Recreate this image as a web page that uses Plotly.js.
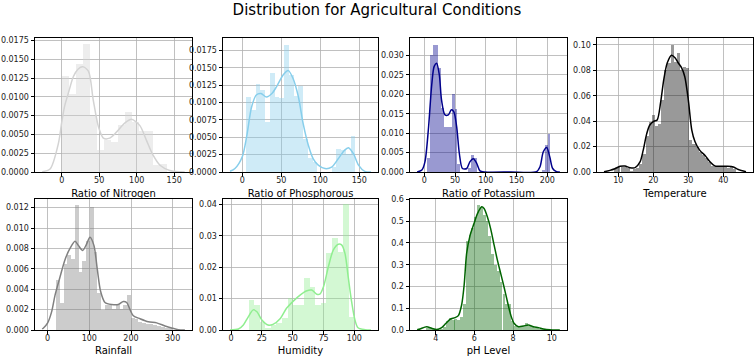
<!DOCTYPE html>
<html>
<head>
<meta charset="utf-8">
<script src="https://cdn.plot.ly/plotly-3.0.1.min.js"></script>
<style>html,body{margin:0;padding:0;background:#fff;}#chart{width:754px;height:356px;}</style>
</head>
<body>
<div id="chart"></div>
<script>
// ---------------- DATA ----------------
const chartTitle = "Distribution for Agricultural Conditions";
const axisTitles = ["Ratio of Nitrogen", "Ratio of Phosphorous", "Ratio of Potassium", "Temperature", "Rainfall", "Humidity", "pH Level"];

// Nitrogen
const nBinX = [4.67, 14.0, 23.33, 32.67, 42.0, 51.33, 60.67, 70.0, 79.33, 88.67, 98.0, 107.33, 116.67, 126.0, 135.33];
const nBinY = [0.0128, 0.0104, 0.0143, 0.0170, 0.0075, 0.0029, 0.0042, 0.0040, 0.0062, 0.0080, 0.0067, 0.0054, 0.0054, 0.0009, 0.0011];
const nKdeX = [-26, -15.5, -4.4, 0, 4, 8.9, 15.6, 22, 28, 35.6, 42, 49, 55.6, 64, 73, 84, 93, 104, 113, 122, 131, 144, 158, 164];
const nKdeY = [0.00005, 0.0004, 0.0038, 0.0066, 0.0088, 0.0105, 0.0127, 0.0137, 0.0140, 0.0134, 0.0096, 0.0060, 0.0045, 0.0045, 0.0053, 0.0065, 0.0070, 0.0062, 0.0042, 0.0022, 0.0009, 0.0002, 0.00002, 0.0];

// Phosphorous
const pBinX = [8.04, 14.13, 20.22, 26.30, 32.39, 38.48, 44.57, 50.65, 56.74, 62.83, 68.91, 75.00, 81.09, 87.17, 93.26, 99.35, 105.43, 111.52, 117.61, 123.70, 129.78, 135.87, 141.96];
const pBinY = [0.0108, 0.0089, 0.0127, 0.0118, 0.0072, 0.0142, 0.0108, 0.0106, 0.0183, 0.0140, 0.0110, 0.0124, 0.0047, 0.0020, 0.0014, 0.0, 0.0, 0.0, 0.0007, 0.0033, 0.0031, 0.0026, 0.0052];
const pKdeX = [-15.7, -9.4, 0, 5.6, 12, 18, 24, 31, 38, 44, 52.6, 59, 65, 72, 78, 84.6, 91, 97.4, 106, 114.5, 123, 130.8, 136, 142.7, 149, 157, 165];
const pKdeY = [0.0001, 0.0005, 0.0022, 0.0051, 0.0094, 0.0111, 0.0113, 0.0108, 0.0113, 0.0123, 0.0140, 0.0146, 0.0135, 0.0108, 0.0070, 0.0039, 0.0019, 0.0010, 0.0005, 0.0007, 0.0019, 0.0031, 0.0035, 0.0026, 0.0010, 0.0001, 0.0];

// Potassium
const kBinX = [7.22, 11.67, 16.11, 20.56, 25.00, 29.44, 33.89, 38.33, 42.78, 47.22, 51.67, 56.11, 73.89, 78.33, 82.78, 193.89, 198.33, 202.78];
const kBinY = [0.0037, 0.0300, 0.0328, 0.0328, 0.0267, 0.0166, 0.0116, 0.0116, 0.0116, 0.0201, 0.0161, 0.0020, 0.0010, 0.0043, 0.0035, 0.0005, 0.0069, 0.0097];
const kKdeX = [-11.7, -4, 1, 6.5, 12, 16, 20, 24.4, 28, 33.6, 39, 44, 48, 52.6, 57, 62, 69, 74, 79.7, 85, 90.5, 98.6, 140, 182.6, 188, 193.5, 199, 204, 208.7, 215, 220.4];
const kKdeY = [0.0, 0.0005, 0.0026, 0.0108, 0.0224, 0.0272, 0.0280, 0.0250, 0.0185, 0.0147, 0.0147, 0.0160, 0.0155, 0.0116, 0.0047, 0.0009, 0.0009, 0.0026, 0.0034, 0.0023, 0.0003, 0.0, 0.0, 0.0001, 0.0013, 0.0052, 0.0063, 0.0039, 0.0009, 0.0001, 0.0];

// Temperature
const tBinX = [9.28, 10.17, 11.07, 11.96, 12.86, 13.75, 14.64, 15.54, 16.43, 17.33, 18.22, 19.11, 20.01, 20.90, 21.80, 22.69, 23.58, 24.48, 25.37, 26.27, 27.16, 28.05, 28.95, 29.84, 30.74, 31.63, 32.53, 33.42, 34.31, 35.21, 36.10, 37.00, 37.89, 38.78, 39.68, 40.57, 41.47, 42.36, 43.26];
const tBinY = [0.002, 0.004, 0.004, 0.004, 0.003, 0.001, 0.002, 0.003, 0.006, 0.014, 0.028, 0.039, 0.045, 0.036, 0.038, 0.057, 0.080, 0.086, 0.100, 0.087, 0.094, 0.080, 0.083, 0.082, 0.025, 0.022, 0.020, 0.016, 0.013, 0.011, 0.008, 0.005, 0.004, 0.004, 0.004, 0.004, 0.003, 0.004, 0.002];
const tKdeX = [5.9, 7.6, 9, 10.5, 11.9, 13.3, 14.8, 16.2, 17.1, 18.1, 19, 20.2, 21.1, 22.1, 23, 24, 25.2, 26.2, 27.1, 28.1, 29, 30, 31, 31.9, 33.3, 34.8, 36.2, 37.6, 39, 41, 42.9, 44.3, 46.5];
const tKdeY = [0.0002, 0.0013, 0.0026, 0.0045, 0.0047, 0.0034, 0.0034, 0.0079, 0.017, 0.030, 0.037, 0.040, 0.041, 0.055, 0.073, 0.086, 0.092, 0.090, 0.086, 0.082, 0.075, 0.057, 0.033, 0.024, 0.017, 0.013, 0.008, 0.0047, 0.0045, 0.0045, 0.004, 0.002, 0.0002];

// Rainfall
const rBinX = [24.69, 33.67, 42.65, 51.63, 60.61, 69.59, 78.57, 87.55, 96.53, 105.51, 114.49, 123.47, 132.45, 141.43, 150.41, 159.39, 168.37, 177.35, 186.33, 195.31, 204.29, 213.27, 222.25, 231.23, 240.21, 249.19, 258.17, 267.15, 276.13, 285.11, 294.09];
const rBinY = [0.0049, 0.0026, 0.0065, 0.0074, 0.0070, 0.0123, 0.0057, 0.0068, 0.0087, 0.0121, 0.0077, 0.0036, 0.0020, 0.0025, 0.0025, 0.0021, 0.0025, 0.0021, 0.0025, 0.0034, 0.0012, 0.0011, 0.0008, 0.0007, 0.0006, 0.0006, 0.0005, 0.0004, 0.0003, 0.0002, 0.0002];
const rKdeX = [-13.3, -10, 0, 9.6, 17.6, 29.6, 41.6, 53.6, 65.6, 73.6, 84, 92, 101.6, 111, 119, 127, 137.6, 153.6, 169.6, 181.6, 189.6, 197.6, 205.6, 221.6, 241.6, 261.6, 281.6, 297.6, 313.6, 329.3];
const rKdeY = [0.0001, 0.0002, 0.0007, 0.0018, 0.0034, 0.0052, 0.0069, 0.0080, 0.0087, 0.0083, 0.0078, 0.0083, 0.0091, 0.0083, 0.0060, 0.0038, 0.0027, 0.0025, 0.0025, 0.0028, 0.0027, 0.0020, 0.0014, 0.0011, 0.0008, 0.0007, 0.0004, 0.0002, 0.00003, 0.0];

// Humidity
const hBinX = [16.52, 21.03, 25.54, 30.05, 34.56, 39.07, 43.58, 48.09, 52.60, 57.11, 61.62, 66.13, 70.64, 75.15, 79.66, 84.17, 88.68, 93.19, 97.70];
const hBinY = [0.0095, 0.0080, 0.0027, 0.0007, 0.0016, 0.0021, 0.0037, 0.0101, 0.0080, 0.0080, 0.0167, 0.0138, 0.0080, 0.0085, 0.0244, 0.0292, 0.0249, 0.0400, 0.0042];
const hKdeX = [-0.8, 6, 10, 14, 18, 21, 25, 30, 34, 40, 45, 50.5, 56, 61, 65.4, 69.5, 72, 75, 79, 83, 87, 89.7, 92.4, 95, 97.8, 100.5, 103, 108.6, 113.5];
const hKdeY = [0.0, 0.0003, 0.0016, 0.0042, 0.0064, 0.0058, 0.0032, 0.0016, 0.0018, 0.0037, 0.0069, 0.0092, 0.0111, 0.0124, 0.0127, 0.0114, 0.0114, 0.0138, 0.0202, 0.0255, 0.0273, 0.0271, 0.0244, 0.0170, 0.0090, 0.0032, 0.0007, 0.0001, 0.0];

// pH
const phBinX = [3.58, 3.72, 3.87, 4.02, 4.16, 4.31, 4.46, 4.60, 4.75, 4.90, 5.04, 5.19, 5.33, 5.48, 5.63, 5.77, 5.92, 6.07, 6.21, 6.36, 6.51, 6.65, 6.80, 6.94, 7.09, 7.24, 7.38, 7.53, 7.68, 7.82, 7.97, 8.12, 8.26, 8.41, 8.56, 8.70, 8.85, 8.99, 9.14, 9.29, 9.43, 9.58, 9.73, 9.87];
const phBinY = [0.010, 0.008, 0.004, 0.002, 0.001, 0.004, 0.015, 0.040, 0.053, 0.045, 0.050, 0.045, 0.060, 0.120, 0.410, 0.435, 0.470, 0.520, 0.575, 0.565, 0.530, 0.500, 0.430, 0.350, 0.300, 0.270, 0.220, 0.165, 0.120, 0.120, 0.040, 0.020, 0.012, 0.015, 0.020, 0.032, 0.020, 0.012, 0.008, 0.010, 0.004, 0.004, 0.002, 0.002];
const phKdeX = [3.04, 3.19, 3.53, 3.79, 4.05, 4.31, 4.53, 4.74, 5.0, 5.17, 5.34, 5.47, 5.6, 5.78, 5.98, 6.16, 6.38, 6.5, 6.67, 6.84, 7.02, 7.19, 7.36, 7.53, 7.71, 7.88, 8.05, 8.28, 8.53, 8.79, 9.05, 9.31, 9.57, 9.91, 10.26, 10.42];
const phKdeY = [0.001, 0.005, 0.015, 0.008, 0.002, 0.011, 0.031, 0.049, 0.057, 0.066, 0.115, 0.206, 0.352, 0.436, 0.489, 0.535, 0.566, 0.558, 0.520, 0.466, 0.390, 0.321, 0.260, 0.199, 0.130, 0.069, 0.031, 0.015, 0.018, 0.023, 0.015, 0.011, 0.005, 0.001, 0.0, 0.0];

// ---------------- PRESENTATION ----------------
const W = 754, H = 356;
const panels = [
  {bx:nBinX, by:nBinY, bw:9.333, kx:nKdeX, ky:nKdeY, color:'#d3d3d3', px:[35,192], py:[38,172], xr:[-35.6,173.7], yr:[0,0.01782], xt:[0,50,100,150], yt:[0,0.0025,0.005,0.0075,0.01,0.0125,0.015,0.0175], yf:'.4f'},
  {bx:pBinX, by:pBinY, bw:6.087, kx:pKdeX, ky:pKdeY, color:'#87ceeb', px:[223,378], py:[38,172], xr:[-24.7,174], yr:[0,0.0193], xt:[0,50,100,150], yt:[0,0.0025,0.005,0.0075,0.01,0.0125,0.015,0.0175], yf:'.4f'},
  {bx:kBinX, by:kBinY, bw:4.444, kx:kKdeX, ky:kKdeY, color:'#00008b', px:[410,567], py:[38,172], xr:[-23.3,232], yr:[0,0.0345], xt:[0,50,100,150,200], yt:[0,0.005,0.01,0.015,0.02,0.025,0.03], yf:'.3f'},
  {bx:tBinX, by:tBinY, bw:0.894, kx:tKdeX, ky:tKdeY, color:'#000000', px:[597,753], py:[38,172], xr:[3.9,48.5], yr:[0,0.1055], xt:[10,20,30,40], yt:[0,0.02,0.04,0.06,0.08,0.1], yf:'.2f'},
  {bx:rBinX, by:rBinY, bw:8.98, kx:rKdeX, ky:rKdeY, color:'#808080', px:[35,192], py:[199,330], xr:[-30.4,346.4], yr:[0,0.01285], xt:[0,100,200,300], yt:[0,0.002,0.004,0.006,0.008,0.01,0.012], yf:'.3f'},
  {bx:hBinX, by:hBinY, bw:4.51, kx:hKdeX, ky:hKdeY, color:'#90ee90', px:[223,378], py:[199,330], xr:[-6.5,119.2], yr:[0,0.0417], xt:[0,25,50,75,100], yt:[0,0.01,0.02,0.03,0.04], yf:'.2f'},
  {bx:phBinX, by:phBinY, bw:0.1464, kx:phKdeX, ky:phKdeY, color:'#006400', px:[410,567], py:[199,330], xr:[2.67,10.79], yr:[0,0.602], xt:[4,6,8,10], yt:[0,0.1,0.2,0.3,0.4,0.5,0.6], yf:'.1f'}
];

const FONT = 'DejaVu Sans, Liberation Sans, sans-serif';
const traces = [];
const layout = {
  width: W, height: H,
  margin: {l:0, r:0, t:0, b:0},
  paper_bgcolor: '#ffffff', plot_bgcolor: '#ffffff',
  showlegend: false, hovermode: false,
  barmode: 'overlay', bargap: 0,
  font: {family: FONT, size: 8, color: '#000000'},
  title: {text: chartTitle, x: 0.5, xanchor: 'center', y: 1 - 10/H, yanchor: 'middle', font: {family: FONT, size: 15, color: '#000000'}}
};

panels.forEach((p, i) => {
  const n = i + 1;
  const xa = 'x' + (n === 1 ? '' : n), ya = 'y' + (n === 1 ? '' : n);
  traces.push({type:'bar', x:p.bx, y:p.by, width:p.bw, xaxis:xa, yaxis:ya,
    marker:{color:p.color, opacity:0.4, line:{width:0}}});
  traces.push({type:'scatter', mode:'lines', x:p.kx, y:p.ky, xaxis:xa, yaxis:ya,
    line:{color:p.color, width:1.5, shape:'spline', smoothing:0.8}});
  const common = {showline:true, mirror:true, linecolor:'#000000', linewidth:1,
    showgrid:true, gridcolor:'#b0b0b0', gridwidth:0.8, zeroline:false,
    ticks:'outside', ticklen:3.5, tickwidth:1, tickcolor:'#000000',
    tickfont:{family:FONT, size:8, color:'#222222'}, fixedrange:true};
  layout['xaxis' + (n === 1 ? '' : n)] = Object.assign({}, common, {
    domain:[p.px[0]/W, p.px[1]/W], anchor:ya, range:p.xr, tickmode:'array', tickvals:p.xt,
    ticklabelstandoff:-3,
    title:{text:axisTitles[i], font:{family:FONT, size:10, color:'#000000'}, standoff:5}
  });
  layout['yaxis' + (n === 1 ? '' : n)] = Object.assign({}, common, {
    domain:[(H - p.py[1])/H, (H - p.py[0])/H], anchor:xa, range:p.yr, tickmode:'array', tickvals:p.yt, tickformat:p.yf
  });
});

Plotly.newPlot('chart', traces, layout, {staticPlot:true, displayModeBar:false});
</script>
</body>
</html>
